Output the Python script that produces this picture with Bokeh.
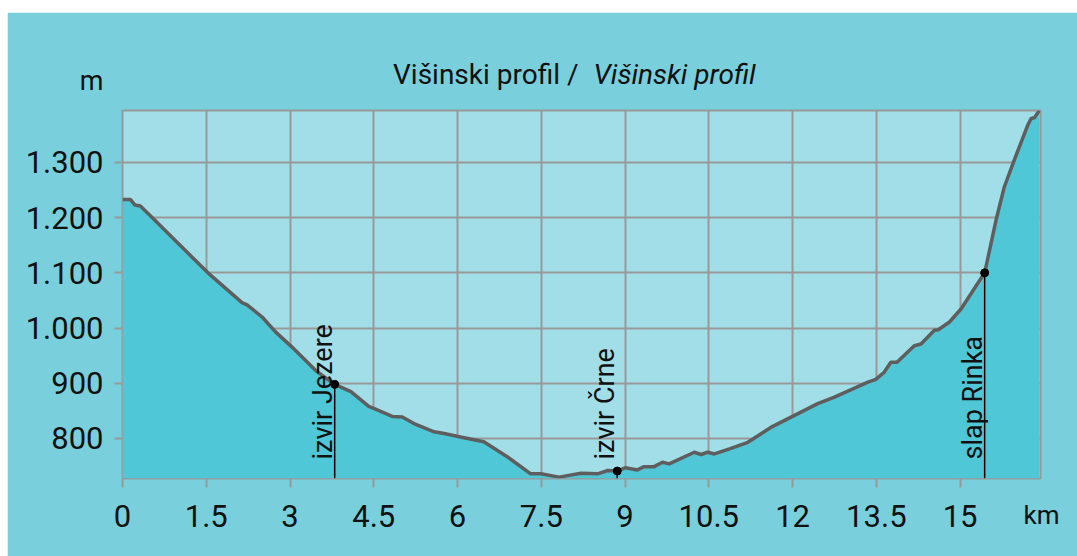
from bokeh.plotting import figure
from bokeh.models import FixedTicker, Label, Range1d
from bokeh.embed import file_html
from bokeh.resources import INLINE
from bokeh.core.properties import value

# ---- data ----
distance_km = [0.00, 0.14, 0.22, 0.32, 0.53, 1.53, 2.14, 2.23, 2.50, 2.74, 3.04, 3.46,
               3.80, 4.09, 4.41, 4.53, 4.83, 5.01, 5.22, 5.58, 5.76, 6.03, 6.47, 6.89,
               7.31, 7.49, 7.82, 8.21, 8.51, 8.69, 8.86, 9.01, 9.22, 9.34, 9.52, 9.67,
               9.79, 10.24, 10.36, 10.48, 10.60, 10.87, 11.20, 11.61, 12.00, 12.45,
               12.75, 13.35, 13.49, 13.64, 13.76, 13.87, 14.18, 14.30, 14.54, 14.61,
               14.81, 15.02, 15.44, 15.65, 15.79, 15.97, 16.21, 16.27, 16.33, 16.42]
elevation_m = [1233, 1233, 1223, 1221, 1200, 1100, 1046, 1042, 1020, 993, 965, 923,
               898, 885, 858, 853, 840, 839, 827, 812, 809, 803, 794, 767,
               736, 736, 730, 737, 736, 742, 741, 747, 743, 749, 749, 757,
               754, 775, 771, 775, 772, 781, 793, 820, 840, 863,
               875, 902, 907, 920, 938, 938, 968, 971, 996, 997,
               1011, 1035, 1100, 1198, 1255, 1304, 1367, 1379, 1381, 1394]

poi_names = ["izvir Jezere", "izvir Črne", "slap Rinka"]
poi_km = [3.80, 8.86, 15.44]
poi_m = [898, 741, 1100]

x_ticks = [0, 1.5, 3, 4.5, 6, 7.5, 9, 10.5, 12, 13.5, 15]
x_tick_labels = ["0", "1.5", "3", "4.5", "6", "7.5", "9", "10.5", "12", "13.5", "15"]
y_ticks = [800, 900, 1000, 1100, 1200, 1300]
y_tick_labels = ["800", "900", "1.000", "1.100", "1.200", "1.300"]

title_regular = "Višinski profil /"
title_italic = "Višinski profil"
y_unit = "m"
x_unit = "km"

X_MIN, X_MAX = 0, 16.44
Y_MIN, Y_MAX = 727.5, 1394

# ---- styles ----
OUTER = "#79cfdc"
INNER = "#a1dee7"
FILL = "#4fc7d6"
LINE = "#5e5e5e"
GRID = "#999999"
FONT = "Roboto"
TXT = "#111111"

p = figure(width=1070, height=544, output_backend="svg", toolbar_location=None,
           x_range=Range1d(X_MIN, X_MAX), y_range=Range1d(Y_MIN, Y_MAX),
           min_border_left=115, min_border_right=37, min_border_top=98,
           min_border_bottom=78,
           styles={"margin-left": "7px", "margin-top": "12px"})
p.background_fill_color = INNER
p.border_fill_color = OUTER
p.outline_line_color = GRID
p.outline_line_width = 2

# area + profile line
p.varea(x=distance_km, y1=[Y_MIN] * len(distance_km), y2=elevation_m, fill_color=FILL)
p.line(distance_km, elevation_m, line_color=LINE, line_width=3.5, line_join="round")

# markers
p.segment(x0=poi_km, y0=[Y_MIN] * len(poi_km), x1=poi_km, y1=poi_m,
          line_color="black", line_width=1.5)
p.scatter(poi_km, poi_m, size=8, color="black")
p.text(x=poi_km, y=[Y_MIN] * len(poi_km), text=poi_names, angle=1.5708,
       x_offset=-12, y_offset=-19, text_align="left", text_baseline="alphabetic",
       text_font=value(FONT), text_font_size="27px", text_color=TXT)

# axes
for ax in (p.xaxis, p.yaxis):
    ax.axis_line_color = None
    ax.major_tick_in = 0
    ax.minor_tick_line_color = None
    ax.major_tick_line_color = GRID
    ax.major_tick_line_width = 2
    ax.major_label_text_font = FONT
    ax.major_label_text_font_size = "31px"
    ax.major_label_text_color = TXT

p.xaxis.ticker = FixedTicker(ticks=x_ticks)
p.xaxis.major_label_overrides = dict(zip(x_ticks, x_tick_labels))
p.xaxis.major_tick_out = 9
p.xaxis.major_label_standoff = 17

p.yaxis.ticker = FixedTicker(ticks=y_ticks)
p.yaxis.major_label_overrides = dict(zip(y_ticks, y_tick_labels))
p.yaxis.major_tick_out = 8
p.yaxis.major_label_standoff = 11

p.xgrid.grid_line_color = GRID
p.ygrid.grid_line_color = GRID
p.xgrid.grid_line_width = 2
p.ygrid.grid_line_width = 2
p.xgrid.level = "underlay"
p.ygrid.level = "underlay"

# title and units as Labels in side panels (side panels are not clipped).
# Each Label gets its own panel; screen units are relative to that panel.
def side_label(side, x, y, text, align, size, style="normal"):
    lab = Label(x=x, y=y, x_units="screen", y_units="screen", text=text,
                text_align=align, text_baseline="alphabetic", text_font_style=style,
                text_font=FONT, text_font_size=size, text_color=TXT)
    p.add_layout(lab, side)

side_label("above", 456, 36, title_regular, "right", "28px")
side_label("above", 471, 3, title_italic, "left", "28px", "italic")
side_label("above", -19, -36, y_unit, "right", "27px")
side_label("right", -17, -36, x_unit, "left", "26px")

open("out.html", "w").write(file_html(p, INLINE))
